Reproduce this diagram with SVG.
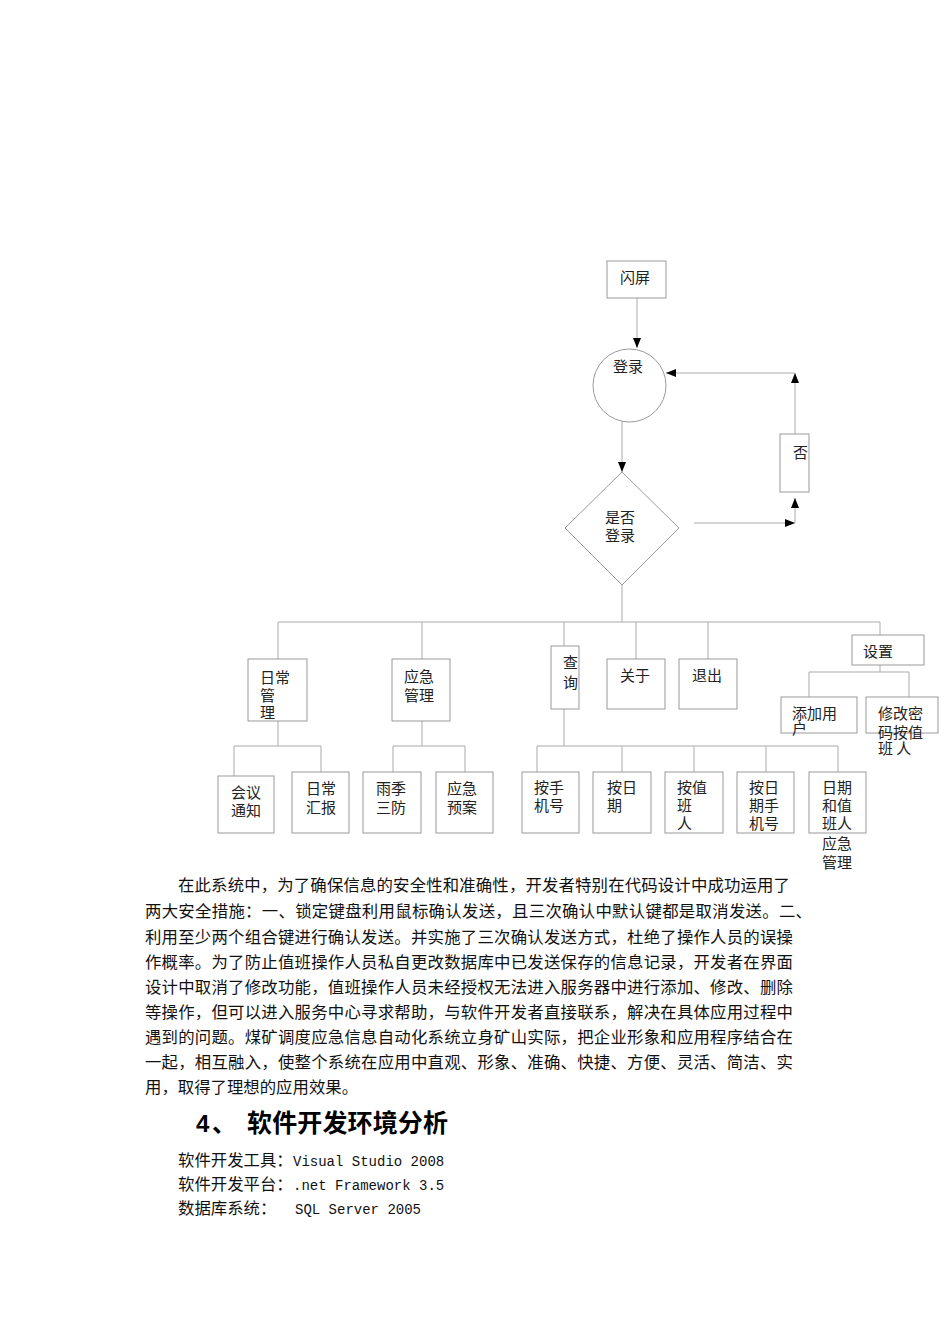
<svg xmlns="http://www.w3.org/2000/svg" width="950" height="1344" viewBox="0 0 950 1344">
<style>
.b{fill:#fff;stroke:#999;stroke-width:1}
.c{fill:none;stroke:#aaa;stroke-width:1}
.t{font-family:"Noto Sans CJK SC",sans-serif;font-size:15px;fill:#222}
.p{font-family:"Noto Sans CJK SC",sans-serif;font-size:16.4px;fill:#111}
.m{font-family:"Liberation Mono",monospace;font-size:14px}
</style>
<defs>
<marker id="ah" markerWidth="10" markerHeight="8" refX="10" refY="4" orient="auto" markerUnits="userSpaceOnUse">
<path d="M0,0 L10,4 L0,8 z" fill="#000"/>
</marker>
</defs>
<rect width="950" height="1344" fill="#fff"/>
<g id="connectors">
<path class="c" d="M637,298 V348" marker-end="url(#ah)"/>
<path class="c" d="M622,421 V472" marker-end="url(#ah)"/>
<path class="c" d="M694,523 H795" marker-end="url(#ah)"/>
<path class="c" d="M795,523 V498" marker-end="url(#ah)"/>
<path class="c" d="M795,434 V373" marker-end="url(#ah)"/>
<path class="c" d="M795,373 H666" marker-end="url(#ah)"/>
<path class="c" d="M622,585 V622 M278,622 H880 M278,622 V659 M422,622 V659 M564,622 V646 M636,622 V659 M708,622 V659 M880,622 V635"/>
<path class="c" d="M278,721 V746 M234,746 H321 M234,746 V776 M321,746 V772"/>
<path class="c" d="M422,721 V746 M393,746 H465 M393,746 V772 M465,746 V772"/>
<path class="c" d="M564,709 V746 M537,746 H838 M537,746 V772 M622,746 V772 M694,746 V772 M766,746 V772 M838,746 V772"/>
<path class="c" d="M880,665 V672 M809,672 H909 M809,672 V697 M909,672 V697"/>
</g>
<g id="n-splash"><rect class="b" x="607" y="261" width="59" height="37"/><text class="t" x="620" y="283">闪屏</text></g>
<g id="n-login"><circle class="b" cx="629.5" cy="385.5" r="36.5"/><text class="t" x="613" y="372">登录</text></g>
<g id="n-decide"><polygon class="b" points="622,472 679,528 622,585 565,528"/><text class="t" x="605" y="523">是否<tspan x="605" y="541">登录</tspan></text></g>
<g id="n-no"><rect class="b" x="780" y="434" width="29" height="58"/><text class="t" x="793" y="458">否</text></g>
<g id="n-daily"><rect class="b" x="248" y="659" width="59" height="62"/><text class="t" x="260" y="683">日常<tspan x="260" y="701">管</tspan><tspan x="260" y="718">理</tspan></text></g>
<g id="n-emerg"><rect class="b" x="392" y="659" width="58" height="62"/><text class="t" x="404" y="682">应急<tspan x="404" y="701">管理</tspan></text></g>
<g id="n-query"><rect class="b" x="551" y="646" width="28" height="63"/><text class="t" x="563" y="668">查<tspan x="563" y="688">询</tspan></text></g>
<g id="n-about"><rect class="b" x="607" y="659" width="58" height="50"/><text class="t" x="620" y="681">关于</text></g>
<g id="n-exit"><rect class="b" x="679" y="659" width="58" height="50"/><text class="t" x="692" y="681">退出</text></g>
<g id="n-set"><rect class="b" x="852" y="635" width="72" height="30"/><text class="t" x="863" y="657">设置</text></g>
<g id="n-adduser"><rect class="b" x="781" y="697" width="76" height="36"/><text class="t" x="792" y="719">添加用<tspan x="792" y="734">户</tspan></text></g>
<g id="n-modpwd"><rect class="b" x="866" y="697" width="72" height="36"/><text class="t" x="878" y="719">修改密<tspan x="878" y="738">码按值</tspan><tspan x="878" y="754">班 人</tspan></text></g>
<g id="n-meeting"><rect class="b" x="218" y="776" width="56" height="57"/><text class="t" x="231" y="798">会议<tspan x="231" y="816">通知</tspan></text></g>
<g id="n-report"><rect class="b" x="292" y="772" width="57" height="61"/><text class="t" x="306" y="794">日常<tspan x="306" y="813">汇报</tspan></text></g>
<g id="n-rain"><rect class="b" x="363" y="772" width="58" height="61"/><text class="t" x="376" y="794">雨季<tspan x="376" y="813">三防</tspan></text></g>
<g id="n-plan"><rect class="b" x="436" y="772" width="57" height="61"/><text class="t" x="447" y="794">应急<tspan x="447" y="813">预案</tspan></text></g>
<g id="n-q1"><rect class="b" x="522" y="772" width="57" height="61"/><text class="t" x="534" y="793">按手<tspan x="534" y="811">机号</tspan></text></g>
<g id="n-q2"><rect class="b" x="593" y="772" width="58" height="61"/><text class="t" x="607" y="793">按日<tspan x="607" y="811">期</tspan></text></g>
<g id="n-q3"><rect class="b" x="665" y="772" width="58" height="61"/><text class="t" x="677" y="793">按值<tspan x="677" y="811">班</tspan><tspan x="677" y="829">人</tspan></text></g>
<g id="n-q4"><rect class="b" x="737" y="772" width="57" height="61"/><text class="t" x="749" y="793">按日<tspan x="749" y="811">期手</tspan><tspan x="749" y="829">机号</tspan></text></g>
<g id="n-q5"><rect class="b" x="809" y="772" width="57" height="61"/><text class="t" x="822" y="793">日期<tspan x="822" y="811">和值</tspan><tspan x="822" y="829">班人</tspan><tspan x="822" y="849">应急</tspan><tspan x="822" y="868">管理</tspan></text></g>
<g id="body">
<text class="p" x="178" y="891" textLength="612" lengthAdjust="spacing">在此系统中，为了确保信息的安全性和准确性，开发者特别在代码设计中成功运用了</text>
<text class="p" x="145" y="917" textLength="667" lengthAdjust="spacing">两大安全措施：一、锁定键盘利用鼠标确认发送，且三次确认中默认键都是取消发送。二、</text>
<text class="p" x="145" y="943" textLength="648" lengthAdjust="spacing">利用至少两个组合键进行确认发送。并实施了三次确认发送方式，杜绝了操作人员的误操</text>
<text class="p" x="145" y="968" textLength="648" lengthAdjust="spacing">作概率。为了防止值班操作人员私自更改数据库中已发送保存的信息记录，开发者在界面</text>
<text class="p" x="145" y="993" textLength="648" lengthAdjust="spacing">设计中取消了修改功能，值班操作人员未经授权无法进入服务器中进行添加、修改、删除</text>
<text class="p" x="145" y="1018" textLength="648" lengthAdjust="spacing">等操作，但可以进入服务中心寻求帮助，与软件开发者直接联系，解决在具体应用过程中</text>
<text class="p" x="145" y="1043" textLength="648" lengthAdjust="spacing">遇到的问题。煤矿调度应急信息自动化系统立身矿山实际，把企业形象和应用程序结合在</text>
<text class="p" x="145" y="1068" textLength="648" lengthAdjust="spacing">一起，相互融入，使整个系统在应用中直观、形象、准确、快捷、方便、灵活、简洁、实</text>
<text class="p" x="145" y="1093">用，取得了理想的应用效果。</text>
<text x="196" y="1132" font-family="Liberation Sans,sans-serif" font-weight="bold" font-size="24" fill="#000">4<tspan x="212" font-family="Noto Sans CJK SC,sans-serif">、</tspan></text>
<text x="247" y="1132" font-family="Noto Sans CJK SC,sans-serif" font-weight="bold" font-size="25" fill="#000" textLength="201" lengthAdjust="spacing">软件开发环境分析</text>
<text class="p" x="178" y="1166">软件开发工具：<tspan class="m" x="293">Visual Studio 2008</tspan></text>
<text class="p" x="178" y="1190">软件开发平台：<tspan class="m" x="293">.net Framework 3.5</tspan></text>
<text class="p" x="178" y="1214">数据库系统：<tspan class="m" x="295">SQL Server 2005</tspan></text>
</g>
</svg>
